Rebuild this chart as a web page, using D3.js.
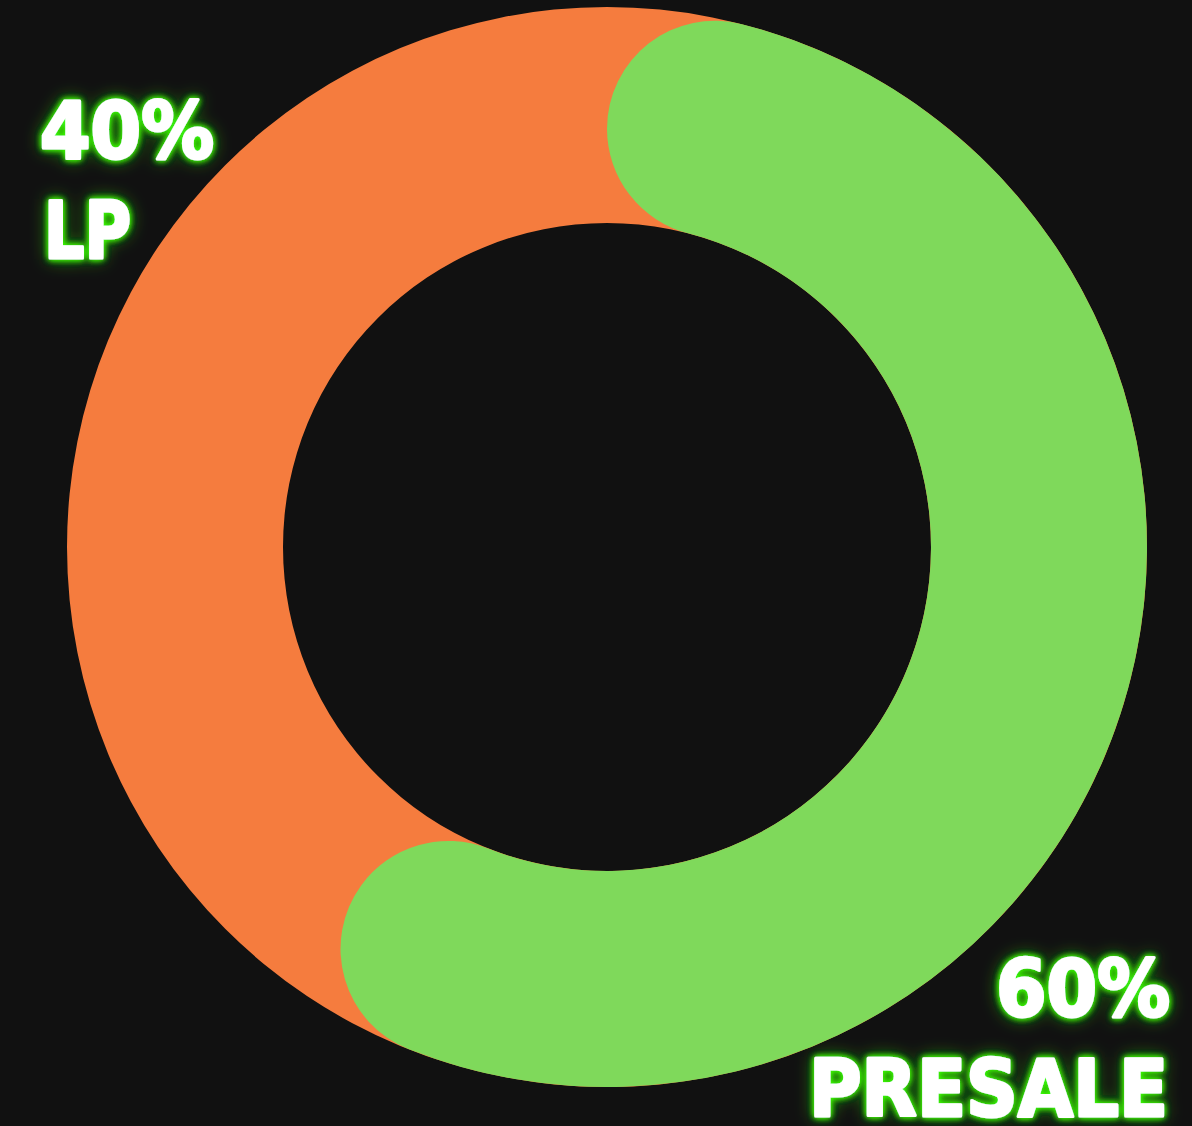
<!DOCTYPE html>
<html>
<head>
<meta charset="utf-8">
<script src="https://cdn.jsdelivr.net/npm/d3@7"></script>
<style>
  html, body { margin: 0; padding: 0; background: #111111; }
  svg { display: block; }
</style>
</head>
<body>
<script>
// allocation data
var categories = ["PRESALE", "LP"];
var values = [60, 40];
var colors = ["#7fd95b", "#f57c3e"];

var width = 1192, height = 1126;
var cx = 607, cy = 547;
var outerR = 540, innerR = 324;

var svg = d3.select("body").append("svg")
  .attr("width", width).attr("height", height)
  .style("background", "#111111");

// neon glow for labels
var defs = svg.append("defs");
var f = defs.append("filter").attr("id", "glow")
  .attr("x", "-30%").attr("y", "-60%").attr("width", "160%").attr("height", "220%");
f.append("feFlood").attr("flood-color", "#3cff10").attr("result", "c");
f.append("feComposite").attr("in", "c").attr("in2", "SourceAlpha").attr("operator", "in").attr("result", "g");
f.append("feGaussianBlur").attr("in", "g").attr("stdDeviation", 3).attr("result", "b1");
f.append("feGaussianBlur").attr("in", "g").attr("stdDeviation", 9).attr("result", "b2");
f.append("feComponentTransfer").attr("in", "b2").attr("result", "b2a")
  .append("feFuncA").attr("type", "linear").attr("slope", 0.6);
var m = f.append("feMerge");
m.append("feMergeNode").attr("in", "b2a");
m.append("feMergeNode").attr("in", "b1");
m.append("feMergeNode").attr("in", "b1");
m.append("feMergeNode").attr("in", "SourceGraphic");

var g = svg.append("g").attr("transform", "translate(" + cx + "," + cy + ")");

var pie = d3.pie().sort(null).value(function(d) { return d; });
var arcs = pie(values);

// track ring in the LP colour, so it shows under the rounded ends
var track = d3.arc().innerRadius(innerR).outerRadius(outerR);
g.append("path")
  .attr("d", track({ startAngle: 0, endAngle: 2 * Math.PI }))
  .attr("fill", colors[1]);

// presale arc with rounded ends
var roundArc = d3.arc().innerRadius(innerR).outerRadius(outerR).cornerRadius((outerR - innerR) / 2);
g.append("path")
  .attr("d", roundArc(arcs[0]))
  .attr("fill", colors[0]);

// labels
var font = "'DejaVu Sans', sans-serif";
function label(txt, x, y, anchor, w) {
  svg.append("text")
    .attr("x", x).attr("y", y)
    .attr("text-anchor", anchor)
    .attr("textLength", w).attr("lengthAdjust", "spacingAndGlyphs")
    .attr("font-family", font).attr("font-weight", "bold").attr("font-size", 78)
    .attr("fill", "#ffffff")
    .attr("stroke", "#ffffff").attr("stroke-width", 3).attr("stroke-linejoin", "round")
    .attr("filter", "url(#glow)")
    .text(txt);
}
label(values[1] + "%", 40, 158, "start", 174);
label(categories[1], 44, 258, "start", 87);
label(values[0] + "%", 1170, 1016, "end", 174);
label(categories[0], 1168, 1116, "end", 359);
</script>
</body>
</html>
